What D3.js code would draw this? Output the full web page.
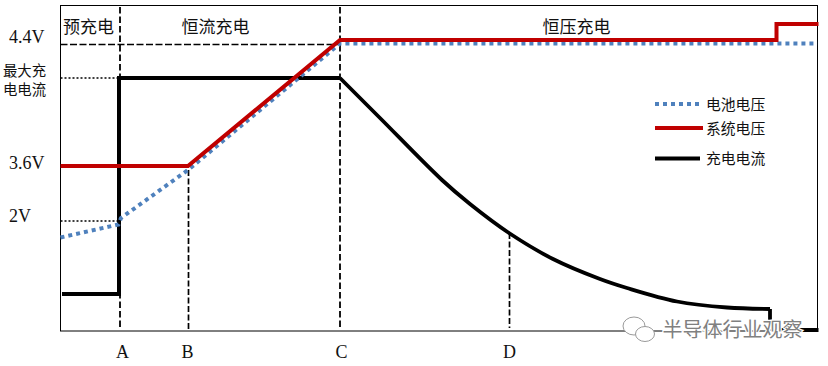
<!DOCTYPE html>
<html><head><meta charset="utf-8">
<script src="https://cdn.jsdelivr.net/npm/d3@7"></script>
<style>html,body{margin:0;padding:0;background:#fff}svg{display:block}
.cjk{font-family:"Noto Sans CJK SC","Noto Sans",sans-serif}
.lat{font-family:"Liberation Serif",serif}</style></head>
<body><svg id="c" width="828" height="366"></svg>
<script>
// Time is in arbitrary units across the plot, level in arbitrary units above the baseline
const batteryVoltage=[[0,93.5],[58,106.5],[60.5,113],[127.5,161],[279.5,287.5],[757,287.5]];
const systemVoltage=[[0,165],[127.5,165],[279.5,291],[716,291],[716,307],[758,307]];
const currentPrecharge=[[1.5,37],[58.5,37],[58.5,253],[279.5,253]];
const currentTaper=[[279.5,253],[319.5,213],[381.5,151],[409.5,127],[448.5,98],[492.5,72],[539.5,52],[566.5,43],[616.5,29.5],[666.5,23.5],[709.5,22]];
const currentEnd=[[709.5,22],[709.5,1],[758,1]];
const phaseLabels=["预充电","恒流充电","恒压充电"];
const phaseCenters=[28,155,516];
const timeTicks=[61.5,126.5,280.5,448.5];
const timeTickLabels=["A","B","C","D"];
const voltageTickLevels=[288,162,109];
const voltageTickLabels=["4.4V","3.6V","2V"];
const maxCurrentLevels=[255,236];
const maxCurrentLabels=["最大充","电电流"];
const legendNames=["电池电压","系统电压","充电电流"];

const W=828,H=366,L=60.5,R=817.5,T=5.5,B=331;
const x=d3.scaleLinear().domain([0,757]).range([L,R]);
const y=d3.scaleLinear().domain([0,325.5]).range([B,T]);
const svg=d3.select("#c");
svg.append("rect").attr("x",L).attr("y",T).attr("width",R-L).attr("height",B-T).attr("fill","#fff").attr("stroke","#000").attr("stroke-width",1);

const ln=d3.line().x(d=>x(d[0])).y(d=>y(d[1]));
const smooth=d3.line().x(d=>x(d[0])).y(d=>y(d[1])).curve(d3.curveCatmullRom.alpha(0.5));

function guide(a,b,dash,w){svg.append("line").attr("x1",x(a[0])).attr("y1",y(a[1])).attr("x2",x(b[0])).attr("y2",y(b[1])).attr("stroke","#000").attr("stroke-width",w).attr("stroke-dasharray",dash);}
// vertical phase / point guides
guide([59.5,324],[59.5,4],"6.5 3",1.8);
guide([128,161],[128,2],"6 2.5",1.7);
guide([279.5,324],[279.5,4],"6.5 3",1.8);
guide([449,98],[449,3],"6 2.5",1.7);
// horizontal guides
guide([0,286.5],[280,286.5],"7 2.5",1.6);
guide([0,253],[59,253],"2 2",1.7);
guide([0,110],[59,110],"2 2",1.7);

// lines
svg.append("path").attr("d",ln(currentPrecharge)).attr("fill","none").attr("stroke","#000").attr("stroke-width",4).attr("stroke-linejoin","miter");
svg.append("path").attr("d",smooth(currentTaper)).attr("fill","none").attr("stroke","#000").attr("stroke-width",3.8);
svg.append("path").attr("d",ln(currentEnd)).attr("fill","none").attr("stroke","#000").attr("stroke-width",3.8).attr("stroke-linejoin","miter");
svg.append("path").attr("d",ln(batteryVoltage)).attr("fill","none").attr("stroke","#4f81bd").attr("stroke-width",4).attr("stroke-dasharray","4 4");
svg.append("path").attr("d",ln(systemVoltage)).attr("fill","none").attr("stroke","#c00000").attr("stroke-width",4).attr("stroke-linejoin","miter");

// phase labels
svg.selectAll("text.ph").data(phaseLabels).join("text").attr("class","ph cjk")
 .attr("x",(d,i)=>x(phaseCenters[i])).attr("y",33).attr("text-anchor","middle").attr("font-size",17).attr("fill","#111").text(d=>d);

// bottom axis
const axB=d3.axisBottom(x).tickValues(timeTicks).tickSize(0).tickPadding(14).tickFormat((d,i)=>timeTickLabels[i]);
const gB=svg.append("g").attr("transform",`translate(0,${B})`).call(axB);
gB.select(".domain").remove();
gB.selectAll("text").attr("font-size",18).attr("fill","#111").attr("font-family","Liberation Serif");

// left labels
svg.selectAll("text.lv").data(voltageTickLabels).join("text").attr("class","lv lat")
 .attr("x",9).attr("y",(d,i)=>y(voltageTickLevels[i])).attr("font-size",18).attr("fill","#111").text(d=>d);
svg.selectAll("text.mc").data(maxCurrentLabels).join("text").attr("class","mc cjk")
 .attr("x",24.5).attr("y",(d,i)=>y(maxCurrentLevels[i])).attr("text-anchor","middle").attr("font-size",14.4).attr("fill","#111").text(d=>d);

// legend
const lg=[{y:104,c:"#4f81bd",dash:"4 4",x2:700},{y:128,c:"#c00000",x2:703},{y:158.5,c:"#000",x2:700}];
lg.forEach((l,i)=>{
 const s=svg.append("line").attr("x1",655).attr("x2",l.x2).attr("y1",l.y).attr("y2",l.y).attr("stroke",l.c).attr("stroke-width",3.8);
 if(l.dash)s.attr("stroke-dasharray",l.dash);
 svg.append("text").attr("class","cjk").attr("x",706).attr("y",l.y+5.5).attr("font-size",14.8).attr("fill","#111").text(legendNames[i]);
});

// watermark
const wm=svg.append("g");
const ic=wm.append("g").attr("fill","#fff").attr("stroke","#9a9a9a").attr("stroke-width",1);
ic.append("ellipse").attr("cx",634).attr("cy",326).attr("rx",11).attr("ry",9);
ic.append("ellipse").attr("cx",645).attr("cy",334).attr("rx",9.5).attr("ry",7.5);
wm.append("text").attr("class","cjk").attr("x",662.5).attr("y",337).attr("font-size",20)
 .attr("fill","#808080").attr("stroke","#fff").attr("stroke-width",2.5).attr("paint-order","stroke").text("半导体行业观察");
</script></body></html>
